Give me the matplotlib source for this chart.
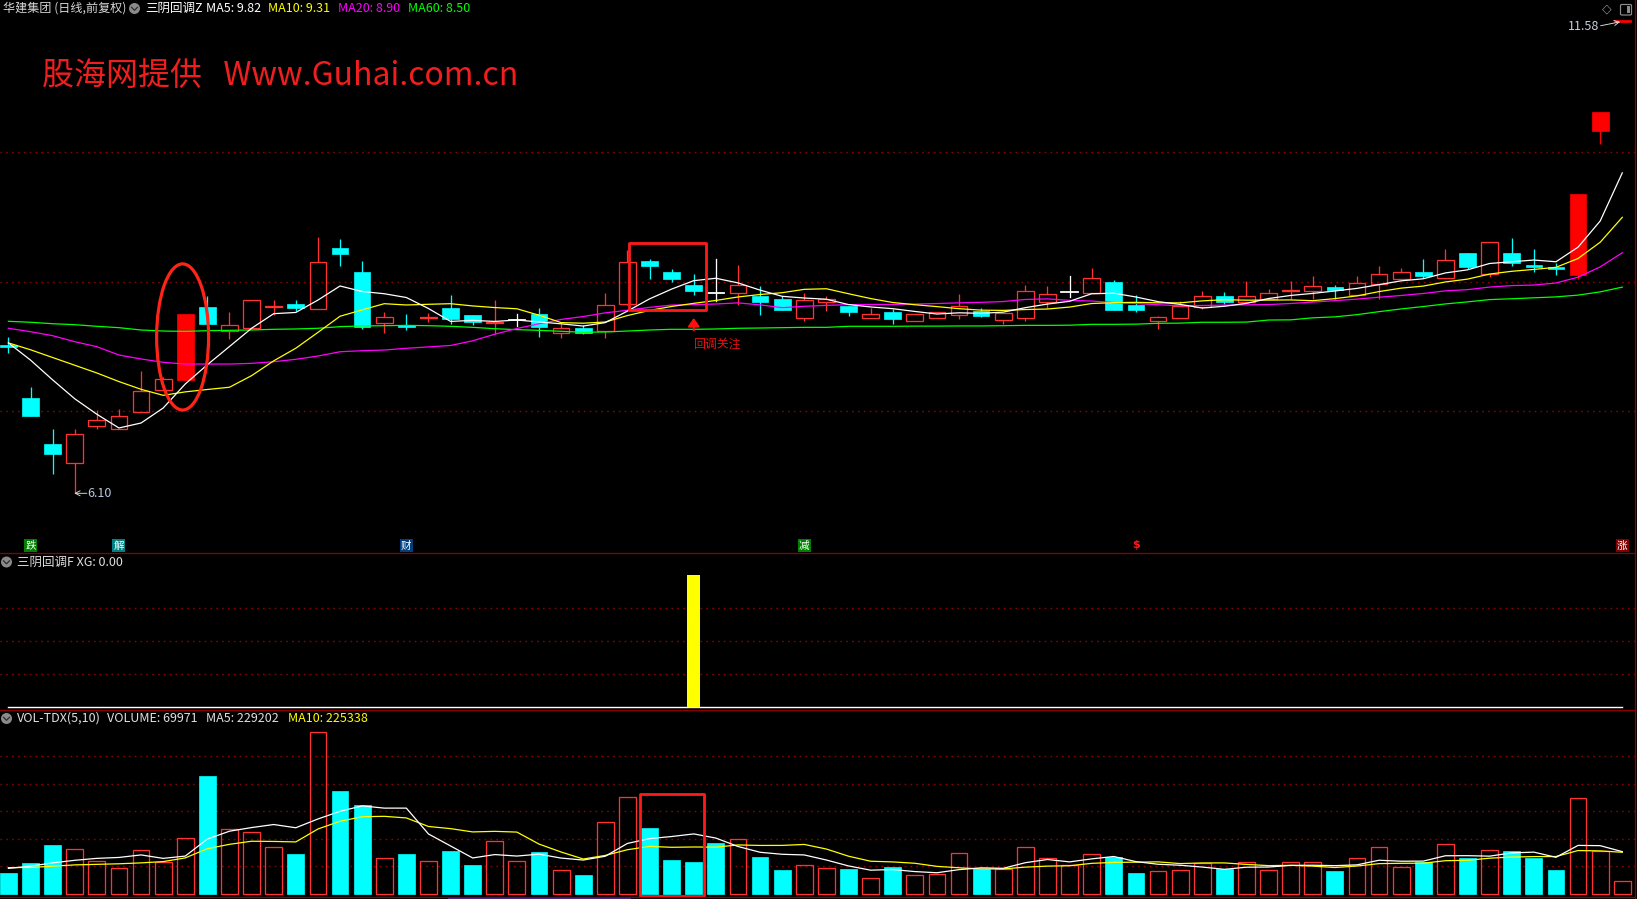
import numpy as np
import matplotlib
matplotlib.use("Agg")
import matplotlib.pyplot as plt
from matplotlib.patches import Rectangle, Ellipse, FancyBboxPatch
from matplotlib.lines import Line2D
from matplotlib.transforms import blended_transform_factory

W, H, DPI = 1637, 899, 100
FAM = ["Noto Sans CJK SC", "DejaVu Sans"]
plt.rcParams["font.family"] = FAM

# ---------------- data ----------------
stock_title = "华建集团 (日线,前复权)"
opens = [7.83, 7.21, 6.67, 6.45, 6.88, 6.85, 7.05, 7.30, 7.42, 8.27,
         7.99, 8.02, 8.27, 8.30, 8.25, 8.95, 8.68, 8.08, 8.05, 8.14,
         8.26, 8.18, 8.08, 8.12, 8.19, 7.97, 8.02, 7.99, 8.30, 8.80,
         8.68, 8.52, 8.43, 8.43, 8.40, 8.36, 8.14, 8.32, 8.28, 8.14,
         8.21, 8.11, 8.14, 8.18, 8.22, 8.12, 8.14, 8.32, 8.44, 8.43,
         8.56, 8.29, 8.10, 8.14, 8.27, 8.40, 8.33, 8.36, 8.45, 8.45,
         8.50, 8.41, 8.54, 8.59, 8.68, 8.60, 8.90, 8.65, 8.90, 8.74,
         8.73, 8.64, 10.31, 11.58]
highs = [7.92, 7.34, 6.85, 6.85, 7.07, 7.08, 7.52, 7.45, 8.19, 8.40,
         8.21, 8.35, 8.35, 8.35, 9.08, 9.06, 8.80, 8.21, 8.19, 8.20,
         8.41, 8.18, 8.35, 8.19, 8.26, 8.07, 8.06, 8.43, 8.93, 8.83,
         8.71, 8.65, 8.83, 8.76, 8.51, 8.40, 8.43, 8.40, 8.28, 8.26,
         8.24, 8.19, 8.21, 8.42, 8.26, 8.20, 8.52, 8.51, 8.63, 8.72,
         8.58, 8.41, 8.16, 8.34, 8.45, 8.44, 8.57, 8.48, 8.57, 8.63,
         8.52, 8.63, 8.75, 8.72, 8.83, 8.94, 8.90, 9.02, 9.07, 8.94,
         8.78, 9.58, 10.54, 11.58]
lows = [7.73, 7.00, 6.33, 6.10, 6.85, 6.85, 7.05, 7.30, 7.42, 8.07,
        7.90, 8.02, 8.18, 8.22, 8.25, 8.74, 8.01, 7.97, 8.00, 8.09,
        8.07, 8.06, 7.95, 8.05, 7.92, 7.91, 7.95, 7.91, 8.29, 8.59,
        8.56, 8.41, 8.34, 8.29, 8.18, 8.23, 8.11, 8.22, 8.16, 8.14,
        8.07, 8.10, 8.14, 8.13, 8.15, 8.07, 8.10, 8.26, 8.38, 8.43,
        8.23, 8.21, 8.01, 8.14, 8.24, 8.30, 8.33, 8.36, 8.36, 8.36,
        8.36, 8.41, 8.36, 8.59, 8.61, 8.60, 8.71, 8.62, 8.74, 8.67,
        8.64, 8.59, 10.16, 11.58]
closes = [7.80, 7.00, 6.56, 6.79, 6.95, 7.00, 7.29, 7.43, 8.19, 8.07,
          8.06, 8.35, 8.28, 8.26, 8.79, 8.88, 8.03, 8.15, 8.04, 8.15,
          8.13, 8.09, 8.09, 8.12, 8.04, 8.02, 7.96, 8.29, 8.79, 8.75,
          8.59, 8.45, 8.43, 8.52, 8.33, 8.23, 8.35, 8.36, 8.21, 8.19,
          8.13, 8.19, 8.21, 8.28, 8.16, 8.20, 8.45, 8.42, 8.44, 8.60,
          8.23, 8.23, 8.15, 8.28, 8.39, 8.33, 8.40, 8.43, 8.46, 8.51,
          8.47, 8.55, 8.65, 8.68, 8.63, 8.81, 8.73, 9.02, 8.78, 8.73,
          8.71, 9.58, 10.54, 11.58]
volumes = [113000, 167000, 265000, 242000, 176000, 138000, 236000, 171000, 304000, 641000,
           351000, 335000, 254000, 216000, 880000, 560000, 483000, 193000, 216000, 176000,
           233000, 156000, 285000, 176000, 227000, 127000, 102000, 389000, 525000, 358000,
           184000, 173000, 276000, 296000, 200000, 129000, 155000, 138000, 135000, 84000,
           146000, 100000, 106000, 220000, 133000, 133000, 253000, 193000, 155000, 215000,
           198000, 113000, 122000, 127000, 166000, 136000, 171000, 127000, 171000, 171000,
           124000, 193000, 253000, 144000, 174000, 270000, 195000, 240000, 233000, 195000,
           129000, 519000, 233000, 69971]
xg = [0, 0, 0, 0, 0, 0, 0, 0, 0, 0, 0, 0, 0, 0, 0, 0, 0, 0, 0, 0,
      0, 0, 0, 0, 0, 0, 0, 0, 0, 0, 0, 1, 0, 0, 0, 0, 0, 0, 0, 0,
      0, 0, 0, 0, 0, 0, 0, 0, 0, 0, 0, 0, 0, 0, 0, 0, 0, 0, 0, 0,
      0, 0, 0, 0, 0, 0, 0, 0, 0, 0, 0, 0, 0, 0]

# moving-average values before enough history exists
ma5_head = [7.85, 7.65, 7.42, 7.20]
ma10_head = [7.85, 7.77, 7.68, 7.59, 7.50, 7.40, 7.31, 7.24, 7.28]
ma20_head = [8.020, 7.980, 7.934, 7.864, 7.806, 7.709, 7.663, 7.624, 7.604, 7.604,
             7.604, 7.612, 7.631, 7.659, 7.697, 7.747, 7.759, 7.767, 7.787]
ma60_head = [8.101, 8.090, 8.073, 8.062, 8.043, 8.027, 8.000, 7.988, 7.984, 7.992,
             7.996, 8.000, 8.008, 8.012, 8.020, 8.039, 8.047, 8.050, 8.054, 8.050,
             8.043, 8.031, 8.015, 8.004, 7.996, 7.985, 7.973, 7.977, 7.988, 8.000,
             8.008, 8.008, 8.012, 8.020, 8.023, 8.027, 8.031, 8.031, 8.043, 8.043,
             8.043, 8.045, 8.045, 8.047, 8.047, 8.050, 8.054, 8.054, 8.056, 8.066,
             8.066, 8.068, 8.078, 8.080, 8.090, 8.090, 8.092, 8.116, 8.118]
vol_ma5_head = [138000, 150000, 168000, 182000]
vol_ma10_head = [142000, 143000, 150000, 157000, 160000, 163000, 168000, 175000, 195000]

event_idx = [1, 5, 18, 36, 51, 73]
event_chars = ["跌", "解", "财", "减", "$", "涨"]
event_bg = ["#008000", "#008080", "#003f7f", "#008000", None, "#7f0000"]

main_legend = [("三阴回调Z", "#ffffff", 145), ("MA5: 9.82", "#ffffff", 206),
               ("MA10: 9.31", "#ffff00", 268.5), ("MA20: 8.90", "#ff00ff", 338),
               ("MA60: 8.50", "#00ff00", 408)]
xg_title = "三阴回调F XG: 0.00"
vol_legend = [("VOL-TDX(5,10)", "#e0e0e0", 17), ("VOLUME: 69971", "#e0e0e0", 107),
              ("MA5: 229202", "#e0e0e0", 206.5), ("MA10: 225338", "#ffff00", 287.5)]
watermark = "股海网提供   Www.Guhai.com.cn"
signal_text = "回调关注"


def moving_average(values, period, head):
    v = np.asarray(values, dtype=float)
    out = np.empty(len(v))
    out[:len(head)] = head
    for i in range(len(head), len(v)):
        out[i] = v[i - period + 1:i + 1].mean()
    return out


n = len(closes)
xs = np.arange(n)
ma5 = moving_average(closes, 5, ma5_head)
ma10 = moving_average(closes, 10, ma10_head)
ma20 = moving_average(closes, 20, ma20_head)
ma60 = moving_average(closes, 60, ma60_head)
vma5 = moving_average(volumes, 5, vol_ma5_head)
vma10 = moving_average(volumes, 10, vol_ma10_head)

# ---------------- style ----------------
PX = 72.0 / DPI
UP = "#ff3232"
LIMIT = "#ff0000"
DOWN = "#00ffff"
FLAT = "#ffffff"
GRID = "#8c0000"
SEP = "#8c0000"
BW = 0.755
FS = 9.0

fig = plt.figure(figsize=(W / DPI, H / DPI), dpi=DPI, facecolor="black")


def fx(p):
    return p / W


def fy(p):
    return 1 - p / H


X_RIGHT = 1635
X0, SP = 8.4, 22.108
XLIM = (-X0 / SP, (X_RIGHT - X0) / SP)


def panel(top, bottom, ylim):
    ax = fig.add_axes([0, fy(bottom), X_RIGHT / W, (bottom - top) / H])
    ax.set_facecolor("black")
    for s in ax.spines.values():
        s.set_visible(False)
    ax.set_xticks([])
    ax.set_yticks([])
    ax.set_xlim(*XLIM)
    ax.set_ylim(*ylim)
    return ax


ax = panel(0, 553.3, (5.402, 11.8394))
axg = panel(553.3, 710, (-0.0204, 1.164))
axv = panel(710, 896.7, (-16350, 1001165))

dot = (0, (1.2, 3))
for p in [10.0675, 8.555, 7.058]:
    ax.axhline(p, color=GRID, lw=1.0, ls=dot, zorder=0)
for v in [0.25, 0.5, 0.75]:
    axg.axhline(v, color=GRID, lw=1.0, ls=dot, zorder=0)
for v in [150000, 300000, 450000, 600000, 750000]:
    axv.axhline(v, color=GRID, lw=1.0, ls=dot, zorder=0)

min_h = 2.0 * (11.8394 - 5.402) / 553.3


def candle_kind(i):
    o, c = opens[i], closes[i]
    if i > 0 and c >= closes[i - 1] * 1.095:
        return "limit"
    if c > o:
        return "up"
    if c < o:
        return "down"
    return "flat"


for i in range(n):
    o, h, l, c = opens[i], highs[i], lows[i], closes[i]
    k = candle_kind(i)
    lo_b, hi_b = min(o, c), max(o, c)
    if k in ("limit", "down"):
        col = LIMIT if k == "limit" else DOWN
        ax.plot([i, i], [l, h], color=col, lw=1.3 * PX, zorder=2, solid_capstyle="butt")
        hgt = max(hi_b - lo_b, min_h)
        ax.add_patch(Rectangle((i - BW / 2, lo_b), BW, hgt, facecolor=col,
                               edgecolor=col, lw=0.5, zorder=3))
    elif k == "up":
        ax.plot([i, i], [hi_b, h], color=UP, lw=1.3 * PX, zorder=2, solid_capstyle="butt")
        ax.plot([i, i], [l, lo_b], color=UP, lw=1.3 * PX, zorder=2, solid_capstyle="butt")
        hgt = max(hi_b - lo_b, min_h * 0.5)
        ax.add_patch(Rectangle((i - BW / 2, lo_b), BW, hgt, facecolor="none",
                               edgecolor=UP, lw=1.3 * PX, zorder=3))
    else:
        ax.plot([i, i], [l, h], color=FLAT, lw=1.3 * PX, zorder=2)
        ax.plot([i - BW / 2, i + BW / 2], [c, c], color=FLAT, lw=1.8 * PX, zorder=3)

for series, col in [(ma60, "#00ff00"), (ma20, "#ff00ff"), (ma10, "#ffff00"), (ma5, "#ffffff")]:
    ax.plot(xs, series, color=col, lw=1.25 * PX, zorder=5)

# annotations in main panel
ax.add_patch(Ellipse((7.88, 7.919), 2.35, 1.70, facecolor="none",
                     edgecolor="#ff2418", lw=3.2 * PX, zorder=6))
ax.add_patch(Rectangle((28.08, 8.233), 3.46, 0.776, facecolor="none",
                       edgecolor="#ff1a1a", lw=2.8 * PX, zorder=6, joinstyle="round"))
ax.annotate("", xy=(31, 8.14), xytext=(31, 7.995),
            arrowprops=dict(arrowstyle="-|>,head_width=0.35,head_length=0.5",
                            color="#ff1010", lw=2.0 * PX, shrinkA=0, shrinkB=0), zorder=6)
ax.text(30.97, 7.831, signal_text, color="#e81010", fontsize=8.6,
        ha="left", va="center", zorder=6)

# low / high labels
low_i = int(np.argmin(lows))
ax.annotate("", xy=(low_i - 0.02, lows[low_i]), xytext=(low_i + 0.55, lows[low_i]),
            arrowprops=dict(arrowstyle="->,head_width=0.18,head_length=0.35",
                            color="#e0e0e0", lw=0.9 * PX, shrinkA=0, shrinkB=0))
ax.text(low_i + 0.58, lows[low_i], f"{lows[low_i]:.2f}", color="#b8c8e0",
        fontsize=FS, ha="left", va="center")
high_i = int(np.argmax(highs))
ax.text(high_i - 1.03, highs[high_i] - 0.05, f"{highs[high_i]:.2f}", color="#c8d0e0",
        fontsize=FS, ha="right", va="center")
ax.annotate("", xy=(high_i - 0.1, highs[high_i] + 0.005), xytext=(high_i - 0.98, highs[high_i] - 0.04),
            arrowprops=dict(arrowstyle="->,head_width=0.18,head_length=0.35",
                            color="#e0e0e0", lw=0.9 * PX, shrinkA=0, shrinkB=0))

# event markers
btr = blended_transform_factory(ax.transData, ax.transAxes)
for i, ch, bg in zip(event_idx, event_chars, event_bg):
    if bg is None:
        ax.text(i, 1 - 545.5 / 553.3, ch, transform=btr, color="#ff1a1a",
                fontsize=8, ha="center", va="center", family=["DejaVu Sans"], fontweight="bold")
    else:
        ax.text(i, 1 - 545.5 / 553.3, ch, transform=btr, color="#ffffff",
                fontsize=7.6, ha="center", va="center",
                bbox=dict(boxstyle="square,pad=0.12", facecolor=bg, edgecolor="none"))

# ---------------- XG panel ----------------
axg.plot(xs, np.zeros(n), color="#ffffff", lw=1.4 * PX, zorder=2)
xg_arr = np.asarray(xg, dtype=float)
axg.bar(xs[xg_arr > 0], xg_arr[xg_arr > 0], width=0.59, color="#ffff00", zorder=3)

# ---------------- Volume panel ----------------
for i in range(n):
    k = candle_kind(i)
    if k == "flat":
        k = "up" if (i > 0 and closes[i] >= closes[i - 1]) else "down"
    v = volumes[i]
    if k == "down":
        axv.add_patch(Rectangle((i - 0.38, 0), 0.76, v, facecolor=DOWN, edgecolor=DOWN, lw=0.5, zorder=2))
    else:
        axv.add_patch(Rectangle((i - 0.38, 0), 0.76, v, facecolor="none", edgecolor=UP,
                                lw=1.3 * PX, zorder=2))
axv.plot(xs, vma10, color="#ffff00", lw=1.25 * PX, zorder=4)
axv.plot(xs, vma5, color="#ffffff", lw=1.25 * PX, zorder=4)
axv.add_patch(Rectangle((28.57, -11400), 2.91, 557400, facecolor="none",
                        edgecolor="#ff1a1a", lw=2.8 * PX, zorder=6, joinstyle="round"))

# ---------------- figure-level decorations ----------------
for yy in [553.3, 710, 896.7]:
    fig.add_artist(Line2D([0, fx(X_RIGHT)], [fy(yy), fy(yy)], color=SEP, lw=1.3 * PX))
fig.add_artist(Line2D([fx(X_RIGHT), fx(X_RIGHT)], [0, 1], color=SEP, lw=1.3 * PX))


def icon(cx, cy):
    fig.add_artist(Ellipse((fx(cx), fy(cy)), 11 / W, 11 / H, facecolor="#8a8a8a",
                           edgecolor="none", transform=fig.transFigure))
    fig.add_artist(Line2D([fx(cx - 3), fx(cx), fx(cx + 3)],
                          [fy(cy - 1.2), fy(cy + 1.8), fy(cy - 1.2)],
                          color="#2a2a2a", lw=1.2 * PX))


fig.text(fx(3), fy(8.5), stock_title, color="#d8d8d8", fontsize=8.7, ha="left", va="center")
icon(134.5, 8.5)
for txt, col, xp in main_legend:
    fig.text(fx(xp), fy(8.5), txt, color=col, fontsize=FS, ha="left", va="center")

fig.text(fx(42), fy(77), watermark, color="#f01e1e", fontsize=23, ha="left", va="center")

icon(6.5, 562)
fig.text(fx(17), fy(562), xg_title, color="#e0e0e0", fontsize=FS, ha="left", va="center")
icon(6.5, 718.5)
for txt, col, xp in vol_legend:
    fig.text(fx(xp), fy(718.5), txt, color=col, fontsize=FS, ha="left", va="center")

# top-right widgets
fig.text(fx(1607), fy(9), "◇", color="#8c8c8c", fontsize=9, ha="center", va="center",
         family=["DejaVu Sans"])
fig.add_artist(FancyBboxPatch((fx(1620.5), fy(15)), 11 / W, 10.5 / H,
                              boxstyle="round,pad=0,rounding_size=0.001",
                              facecolor="none", edgecolor="#8c8c8c", lw=1.2 * PX,
                              transform=fig.transFigure))
fig.add_artist(Rectangle((fx(1627), fy(13)), 3.2 / W, 6.5 / H, facecolor="#8c8c8c",
                         edgecolor="none", transform=fig.transFigure))

# bottom strip fragment
fig.add_artist(Rectangle((fx(448), 0), (631 - 448) / W, 2.3 / H, facecolor="#4a2a9c",
                         edgecolor="none", transform=fig.transFigure))

fig.savefig("out.png", dpi=DPI, facecolor="black")
